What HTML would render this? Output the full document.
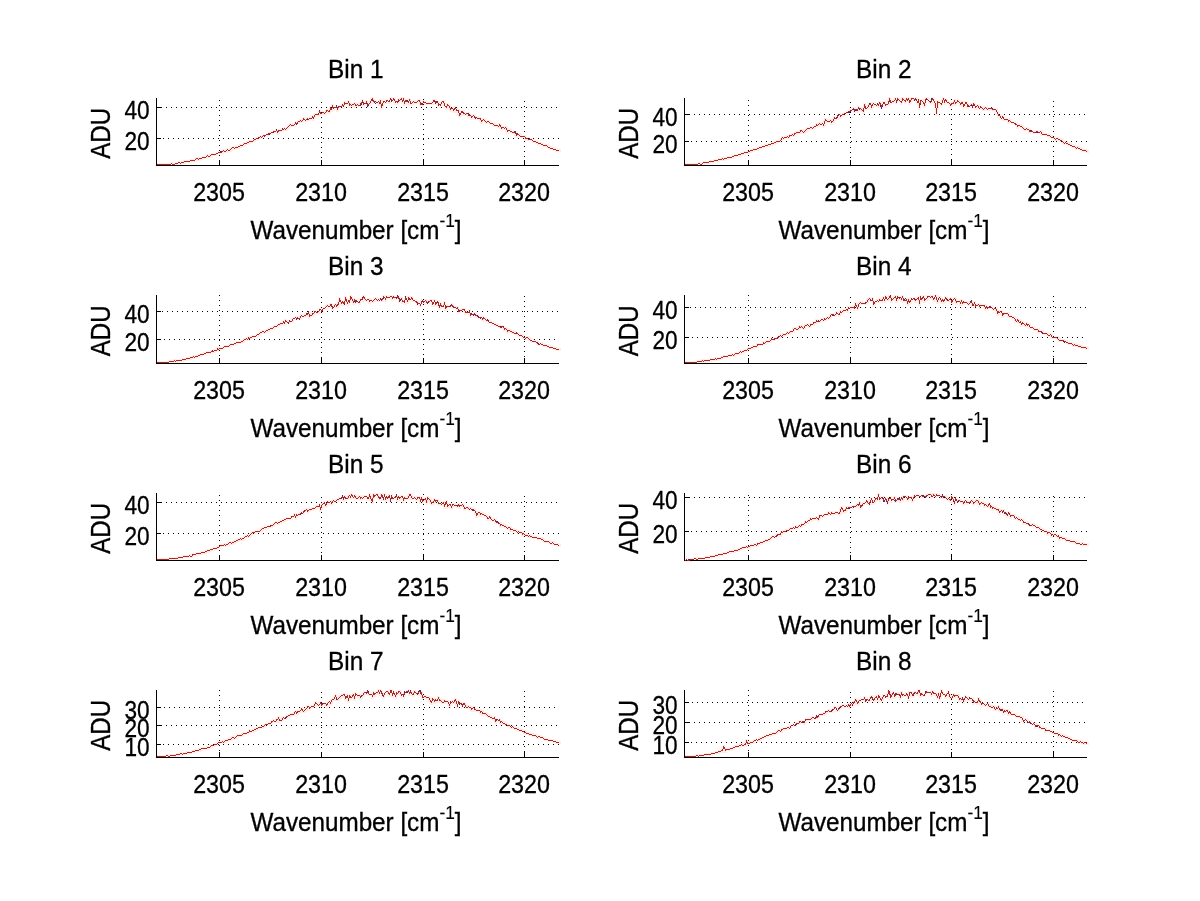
<!DOCTYPE html>
<html lang="en">
<head>
<meta charset="utf-8">
<title>Bins 1-8: ADU vs Wavenumber</title>
<style>
html,body{margin:0;padding:0;background:#fff;}
body{width:1200px;height:901px;overflow:hidden;}
svg{display:block;}
</style>
</head>
<body>
<svg width="1200" height="901" viewBox="0 0 1200 901">
<rect x="0" y="0" width="1200" height="901" fill="#ffffff"/>
<defs>
<path id="c1" d="M277.5 131v2M278.5 130v2M295.5 122v2M303.5 118v2M312.5 116v2M313.5 117v2M314.5 115v2M318.5 113v2M319.5 111v2M320.5 112v2M326.5 110v2M329.5 110v2M330.5 107v3M331.5 108v2M332.5 105v3M333.5 107v2M336.5 106v2M337.5 108v2M338.5 106v2M342.5 104v2M343.5 105v2M344.5 102v3M348.5 101v2M349.5 103v3M355.5 104v2M360.5 103v2M361.5 102v2M362.5 100v2M363.5 102v3M366.5 101v2M367.5 103v3M370.5 101v2M371.5 99v2M372.5 98v2M373.5 100v2M379.5 102v2M380.5 100v4M381.5 104v4M382.5 103v3M383.5 101v2M386.5 100v2M389.5 100v2M390.5 98v2M393.5 98v2M394.5 99v2M395.5 101v2M397.5 101v2M398.5 99v2M401.5 98v2M402.5 100v2M403.5 98v3M404.5 101v3M405.5 100v2M408.5 101v2M409.5 99v2M410.5 101v3M419.5 100v2M420.5 102v3M422.5 103v2M423.5 101v2M433.5 100v2M435.5 101v2M437.5 101v2M438.5 103v2M440.5 104v2M441.5 102v2M443.5 101v2M444.5 103v3M446.5 106v2M447.5 104v2M449.5 106v2M450.5 108v2M453.5 109v2M454.5 108v2M455.5 107v2M456.5 109v2M458.5 110v3M459.5 113v3M460.5 113v2M461.5 111v2M463.5 112v2M468.5 114v2M471.5 116v2M474.5 116v2M480.5 118v2M481.5 120v2M499.5 124v2M500.5 125v2M501.5 127v2M506.5 128v2M507.5 130v2M515.5 132v2M516.5 134v2M517.5 133v2M525.5 137v2M391 99.5h1M400 99.5h1M387 100.5h1M392 100.5h1M399 100.5h1M418 100.5h1M434 100.5h1M374 101.5h2M378 101.5h1M384 101.5h1M388 101.5h1M396 101.5h1M406 101.5h2M413 101.5h1M417 101.5h1M436 101.5h1M442 101.5h1M376 102.5h2M385 102.5h1M412 102.5h1M414 102.5h3M424 102.5h2M432 102.5h1M345 103.5h3M354 103.5h1M364 103.5h2M369 103.5h1M411 103.5h1M426 103.5h6M350 104.5h1M352 104.5h2M357 104.5h1M368 104.5h1M421 104.5h1M439 104.5h1M351 105.5h1M356 105.5h1M358 105.5h2M448 105.5h1M339 106.5h3M445 106.5h1M334 107.5h2M451 108.5h2M327 110.5h1M457 110.5h1M328 111.5h1M462 111.5h1M322 112.5h2M325 112.5h1M321 113.5h1M324 113.5h1M464 113.5h1M466 113.5h2M315 114.5h3M465 114.5h1M469 115.5h2M473 115.5h1M472 116.5h1M475 117.5h2M307 118.5h1M309 118.5h3M477 118.5h3M304 119.5h1M306 119.5h1M308 119.5h1M483 119.5h1M300 120.5h1M302 120.5h1M305 120.5h1M482 120.5h1M484 120.5h1M298 121.5h2M301 121.5h1M485 121.5h1M487 121.5h2M297 122.5h1M486 122.5h1M489 122.5h1M296 123.5h1M490 123.5h3M290 124.5h1M294 124.5h1M493 124.5h1M289 125.5h1M291 125.5h3M494 125.5h4M288 126.5h1M498 126.5h1M287 127.5h1M502 127.5h2M505 127.5h1M284 128.5h1M286 128.5h1M504 128.5h1M282 129.5h2M285 129.5h1M276 130.5h1M279 130.5h3M508 130.5h2M273 131.5h3M510 131.5h2M271 132.5h2M512 132.5h3M268 133.5h3M266 134.5h2M518 134.5h1M263 135.5h3M519 135.5h1M260 136.5h1M262 136.5h1M520 136.5h5M258 137.5h2M261 137.5h1M256 138.5h2M526 138.5h2M254 139.5h2M528 139.5h4M253 140.5h1M532 140.5h1M249 141.5h4M533 141.5h3M247 142.5h2M536 142.5h2M244 143.5h3M538 143.5h3M243 144.5h1M541 144.5h2M240 145.5h3M543 145.5h4M238 146.5h2M547 146.5h1M232 147.5h2M235 147.5h3M548 147.5h2M231 148.5h1M234 148.5h1M550 148.5h3M227 149.5h1M230 149.5h1M553 149.5h3M223 150.5h1M226 150.5h1M228 150.5h2M556 150.5h3M222 151.5h1M224 151.5h2M218 152.5h4M216 153.5h2M211 154.5h5M207 155.5h1M210 155.5h1M206 156.5h1M208 156.5h2M202 157.5h4M196 158.5h2M199 158.5h3M195 159.5h1M198 159.5h1M190 160.5h5M184 161.5h6M178 162.5h2M181 162.5h3M171 163.5h1M175 163.5h3M180 163.5h1M157 164.5h14M172 164.5h3"/>
<path id="c2" d="M781.5 138v2M789.5 135v2M794.5 133v2M800.5 130v2M816.5 124v2M823.5 124v2M824.5 121v3M825.5 119v2M831.5 121v2M833.5 119v2M834.5 117v2M837.5 116v2M840.5 115v2M854.5 109v2M857.5 109v2M858.5 107v2M863.5 108v4M864.5 104v4M865.5 106v3M868.5 105v2M870.5 103v2M871.5 105v3M872.5 104v2M878.5 104v2M879.5 102v2M880.5 103v2M881.5 105v2M882.5 104v2M883.5 102v2M884.5 102v2M885.5 104v2M888.5 101v3M889.5 98v3M890.5 100v3M895.5 98v2M896.5 100v2M897.5 98v2M901.5 101v2M902.5 98v3M905.5 100v2M906.5 98v2M907.5 99v2M908.5 98v2M909.5 100v3M910.5 100v2M911.5 98v2M916.5 99v2M917.5 101v2M918.5 99v4M919.5 103v5M920.5 100v4M923.5 102v2M924.5 103v3M925.5 99v4M931.5 100v2M932.5 98v2M933.5 99v2M934.5 101v2M935.5 103v5M936.5 108v6M937.5 101v7M941.5 103v2M942.5 100v3M943.5 98v2M944.5 100v3M945.5 99v2M946.5 100v2M950.5 104v2M951.5 103v2M953.5 102v2M954.5 100v2M955.5 102v2M957.5 100v2M960.5 103v2M961.5 102v2M962.5 102v2M963.5 104v3M964.5 104v2M965.5 102v2M966.5 102v2M967.5 104v3M972.5 105v2M973.5 103v2M974.5 104v2M975.5 106v2M978.5 106v2M996.5 110v2M997.5 112v2M998.5 114v2M1000.5 116v2M1002.5 116v2M1003.5 117v2M1008.5 120v2M1017.5 125v2M1029.5 130v2M1041.5 132v2M912 98.5h2M915 98.5h1M926 98.5h1M898 99.5h1M903 99.5h1M914 99.5h1M927 99.5h1M894 100.5h1M899 100.5h1M904 100.5h1M921 100.5h1M928 100.5h1M892 101.5h2M900 101.5h1M922 101.5h1M929 101.5h1M958 101.5h1M891 102.5h1M930 102.5h1M938 102.5h2M947 102.5h2M956 102.5h1M959 102.5h1M873 103.5h1M940 103.5h1M949 103.5h1M952 103.5h1M869 104.5h1M874 104.5h2M877 104.5h1M886 104.5h2M971 104.5h1M876 105.5h1M968 105.5h1M970 105.5h1M977 105.5h1M969 106.5h1M976 106.5h1M867 107.5h1M980 107.5h2M985 107.5h1M853 108.5h1M859 108.5h2M866 108.5h1M979 108.5h1M982 108.5h1M984 108.5h1M986 108.5h1M988 108.5h4M852 109.5h1M855 109.5h1M861 109.5h1M983 109.5h1M987 109.5h1M992 109.5h4M850 110.5h2M856 110.5h1M862 110.5h1M848 111.5h2M846 112.5h2M844 113.5h2M839 114.5h1M842 114.5h2M838 115.5h1M841 115.5h1M999 115.5h1M835 118.5h2M1001 118.5h1M1004 119.5h4M826 120.5h1M830 120.5h1M1009 120.5h1M827 121.5h3M832 121.5h1M1010 121.5h1M1011 122.5h3M819 123.5h1M822 123.5h1M1014 123.5h2M818 124.5h1M820 124.5h2M1016 124.5h1M817 125.5h1M1018 125.5h2M814 126.5h2M1020 126.5h2M810 127.5h2M813 127.5h1M1022 127.5h1M807 128.5h3M812 128.5h1M1023 128.5h1M1026 128.5h1M806 129.5h1M1024 129.5h2M1027 129.5h2M801 130.5h1M805 130.5h1M802 131.5h1M804 131.5h1M1030 131.5h3M1036 131.5h2M1040 131.5h1M796 132.5h4M803 132.5h1M1033 132.5h3M1038 132.5h2M795 133.5h1M792 134.5h1M1042 134.5h5M790 135.5h2M793 135.5h1M1047 135.5h3M787 136.5h1M1050 136.5h1M782 137.5h1M784 137.5h3M788 137.5h1M1051 137.5h3M783 138.5h1M1054 138.5h1M1056 138.5h2M1055 139.5h1M1058 139.5h2M780 140.5h1M1060 140.5h2M776 141.5h4M1062 141.5h1M774 142.5h2M1063 142.5h1M1065 142.5h1M771 143.5h3M1064 143.5h1M1066 143.5h2M768 144.5h3M1068 144.5h2M765 145.5h3M1070 145.5h2M762 146.5h3M1072 146.5h3M759 147.5h3M1075 147.5h1M1077 147.5h1M757 148.5h2M1076 148.5h1M1078 148.5h2M753 149.5h4M1080 149.5h2M750 150.5h3M1082 150.5h4M748 151.5h2M1086 151.5h1M744 152.5h4M741 153.5h3M738 154.5h3M734 155.5h4M732 156.5h2M727 157.5h5M722 158.5h1M724 158.5h3M718 159.5h4M723 159.5h1M714 160.5h4M709 161.5h5M703 162.5h6M698 163.5h2M702 163.5h1M685 164.5h13M700 164.5h2"/>
<path id="c3" d="M217.5 348v2M248.5 337v2M283.5 321v2M284.5 322v2M285.5 320v2M292.5 319v2M300.5 316v2M306.5 313v2M308.5 312v2M309.5 314v3M312.5 313v2M314.5 311v2M319.5 309v2M321.5 310v2M322.5 309v2M330.5 304v2M331.5 304v2M332.5 306v3M334.5 305v2M336.5 305v2M337.5 304v2M338.5 302v3M339.5 298v4M340.5 300v2M341.5 302v2M342.5 301v2M343.5 302v2M344.5 301v3M345.5 297v4M346.5 299v3M347.5 302v2M348.5 300v2M349.5 300v3M350.5 296v4M351.5 297v2M352.5 299v2M353.5 301v2M354.5 299v2M355.5 300v2M359.5 301v2M360.5 299v2M362.5 298v2M363.5 296v2M364.5 297v2M369.5 300v2M382.5 298v2M383.5 296v2M385.5 298v2M386.5 296v2M392.5 297v2M393.5 296v2M397.5 296v2M398.5 296v2M399.5 298v3M401.5 298v2M402.5 300v2M404.5 300v3M405.5 297v3M406.5 298v2M407.5 300v2M408.5 297v3M409.5 298v2M411.5 297v2M412.5 298v2M417.5 302v2M420.5 304v2M421.5 301v3M423.5 301v2M426.5 301v2M431.5 300v2M432.5 302v3M433.5 302v2M434.5 300v2M435.5 302v3M436.5 302v2M438.5 302v3M439.5 305v3M440.5 303v3M441.5 305v2M443.5 305v2M444.5 302v3M445.5 305v4M446.5 306v2M451.5 304v2M452.5 305v2M457.5 307v2M458.5 309v3M464.5 309v2M465.5 311v2M469.5 310v3M470.5 313v3M475.5 314v2M482.5 318v2M483.5 317v2M503.5 326v2M504.5 328v2M507.5 330v2M390 296.5h2M384 297.5h1M387 297.5h3M394 297.5h2M375 298.5h1M396 298.5h1M361 299.5h1M365 299.5h1M367 299.5h2M374 299.5h1M376 299.5h1M378 299.5h1M380 299.5h1M400 299.5h1M410 299.5h1M356 300.5h1M366 300.5h1M370 300.5h2M373 300.5h1M377 300.5h1M379 300.5h1M381 300.5h1M413 300.5h2M422 300.5h1M425 300.5h1M430 300.5h1M357 301.5h1M372 301.5h1M403 301.5h1M415 301.5h2M424 301.5h1M428 301.5h2M437 301.5h1M358 302.5h1M427 302.5h1M418 303.5h2M335 304.5h1M327 305.5h1M326 306.5h1M328 306.5h2M442 306.5h1M447 306.5h4M325 307.5h1M333 307.5h1M453 307.5h3M323 308.5h2M456 308.5h1M320 309.5h1M462 309.5h2M460 310.5h2M315 311.5h1M318 311.5h1M459 311.5h1M316 312.5h2M466 312.5h3M313 313.5h1M474 313.5h1M307 314.5h1M471 314.5h3M301 315.5h1M304 315.5h2M310 315.5h2M476 315.5h1M302 316.5h2M477 316.5h1M295 317.5h1M297 317.5h1M478 317.5h4M293 318.5h2M296 318.5h1M298 318.5h2M484 318.5h1M485 319.5h1M486 320.5h2M286 321.5h1M289 321.5h3M488 321.5h1M287 322.5h2M489 322.5h3M280 323.5h3M492 323.5h2M278 324.5h2M494 324.5h2M277 325.5h1M496 325.5h2M274 326.5h3M498 326.5h2M501 326.5h2M273 327.5h1M500 327.5h1M270 328.5h3M505 328.5h1M268 329.5h2M506 329.5h1M266 330.5h2M508 330.5h2M262 331.5h2M265 331.5h1M510 331.5h2M260 332.5h2M264 332.5h1M512 332.5h2M259 333.5h1M514 333.5h4M257 334.5h2M518 334.5h1M256 335.5h1M519 335.5h3M252 336.5h4M522 336.5h1M250 337.5h2M523 337.5h2M526 337.5h2M246 338.5h1M249 338.5h1M525 338.5h1M528 338.5h1M244 339.5h2M247 339.5h1M529 339.5h1M243 340.5h1M530 340.5h2M241 341.5h2M532 341.5h4M236 342.5h5M536 342.5h1M234 343.5h2M537 343.5h1M540 343.5h1M230 344.5h4M538 344.5h2M541 344.5h2M229 345.5h1M543 345.5h4M224 346.5h5M547 346.5h2M223 347.5h1M549 347.5h4M219 348.5h4M553 348.5h3M218 349.5h1M556 349.5h3M214 350.5h3M211 351.5h3M206 352.5h5M204 353.5h2M200 354.5h4M198 355.5h2M193 356.5h1M195 356.5h3M190 357.5h3M194 357.5h1M186 358.5h4M182 359.5h4M174 360.5h1M176 360.5h6M169 361.5h5M175 361.5h1M157 362.5h12"/>
<path id="c4" d="M757.5 344v2M763.5 342v2M771.5 338v2M793.5 329v2M799.5 326v2M804.5 326v2M810.5 324v2M813.5 322v2M816.5 320v2M824.5 318v2M830.5 315v2M836.5 312v2M839.5 313v2M840.5 311v2M847.5 309v2M848.5 307v2M854.5 306v3M855.5 303v3M856.5 305v2M857.5 307v2M858.5 304v3M867.5 300v2M872.5 298v3M873.5 301v4M874.5 302v2M879.5 299v2M882.5 299v2M883.5 297v2M884.5 299v2M885.5 296v3M886.5 297v2M889.5 296v2M890.5 296v2M891.5 298v3M895.5 296v2M896.5 298v3M897.5 296v3M901.5 298v2M902.5 296v2M903.5 298v3M906.5 299v2M907.5 301v3M908.5 299v3M909.5 301v2M910.5 300v2M911.5 298v2M915.5 299v2M918.5 297v3M919.5 300v4M920.5 296v4M921.5 298v2M922.5 297v2M923.5 296v2M924.5 298v3M927.5 296v2M932.5 296v2M933.5 298v2M934.5 297v2M936.5 297v3M937.5 300v2M938.5 298v2M940.5 298v2M941.5 300v2M942.5 299v2M943.5 300v2M944.5 299v2M945.5 297v2M946.5 298v2M950.5 298v2M951.5 300v3M952.5 300v2M955.5 299v2M956.5 301v2M960.5 302v2M961.5 300v2M962.5 302v2M963.5 301v2M971.5 301v2M972.5 303v3M973.5 304v2M974.5 302v2M975.5 304v3M979.5 305v2M984.5 305v2M985.5 307v2M986.5 306v2M987.5 307v2M996.5 309v2M997.5 311v3M998.5 311v2M1001.5 311v2M1002.5 313v3M1003.5 313v2M1008.5 314v2M1015.5 319v2M1017.5 319v2M1018.5 320v2M1020.5 321v2M1021.5 323v2M1022.5 322v2M1026.5 323v2M1027.5 324v2M1029.5 325v2M1038.5 330v2M1051.5 335v2M928 296.5h2M931 296.5h1M935 296.5h1M894 297.5h1M898 297.5h1M900 297.5h1M930 297.5h1M939 297.5h1M869 298.5h1M888 298.5h1M893 298.5h1M899 298.5h1M913 298.5h2M917 298.5h1M926 298.5h1M954 298.5h1M868 299.5h1M870 299.5h1M887 299.5h1M892 299.5h1M912 299.5h1M916 299.5h1M925 299.5h1M949 299.5h1M953 299.5h1M871 300.5h1M877 300.5h1M880 300.5h2M904 300.5h2M947 300.5h2M875 301.5h2M878 301.5h1M957 301.5h3M860 302.5h1M866 302.5h1M964 302.5h3M970 302.5h1M859 303.5h1M861 303.5h5M967 303.5h1M969 303.5h1M968 304.5h1M978 304.5h1M976 305.5h2M980 305.5h4M990 306.5h1M850 307.5h4M988 307.5h2M991 307.5h1M849 308.5h1M992 308.5h1M994 308.5h2M846 309.5h1M993 309.5h1M843 310.5h3M842 311.5h1M1000 311.5h1M841 312.5h1M999 312.5h1M837 313.5h1M1004 313.5h4M831 314.5h3M835 314.5h1M838 314.5h1M834 315.5h1M1009 316.5h3M827 317.5h1M829 317.5h1M1012 317.5h2M826 318.5h1M828 318.5h1M1014 318.5h1M821 319.5h2M825 319.5h1M820 320.5h1M823 320.5h1M817 321.5h3M1016 321.5h1M814 322.5h2M1019 322.5h1M1023 323.5h1M807 324.5h1M811 324.5h2M1024 324.5h1M1028 324.5h1M805 325.5h2M808 325.5h1M1025 325.5h1M801 326.5h1M809 326.5h1M800 327.5h1M802 327.5h1M1030 327.5h3M794 328.5h2M798 328.5h1M803 328.5h1M1033 328.5h1M796 329.5h2M1034 329.5h4M790 331.5h3M1039 331.5h3M787 332.5h1M789 332.5h1M1042 332.5h1M786 333.5h1M788 333.5h1M1043 333.5h4M783 334.5h3M1047 334.5h1M1050 334.5h1M780 335.5h1M782 335.5h1M1048 335.5h2M779 336.5h1M781 336.5h1M778 337.5h1M1052 337.5h5M774 338.5h4M1057 338.5h1M772 339.5h2M1058 339.5h1M770 340.5h1M1059 340.5h5M766 341.5h4M1064 341.5h2M765 342.5h1M1066 342.5h2M764 343.5h1M1068 343.5h4M758 344.5h5M1072 344.5h1M1074 344.5h1M1073 345.5h1M1075 345.5h3M753 346.5h4M1078 346.5h3M751 347.5h2M1081 347.5h5M748 348.5h3M1086 348.5h1M747 349.5h1M744 350.5h3M740 351.5h1M742 351.5h2M739 352.5h1M741 352.5h1M735 353.5h4M732 354.5h1M734 354.5h1M728 355.5h4M733 355.5h1M723 356.5h5M721 357.5h2M715 358.5h1M717 358.5h4M710 359.5h5M716 359.5h1M702 360.5h1M704 360.5h6M697 361.5h5M703 361.5h1M685 362.5h12"/>
<path id="c5" d="M192.5 554v2M291.5 516v2M294.5 514v2M295.5 516v2M296.5 514v2M303.5 511v2M307.5 510v2M319.5 504v3M320.5 507v3M321.5 505v3M324.5 502v2M325.5 504v2M326.5 503v2M327.5 501v2M331.5 502v2M332.5 501v2M342.5 496v2M343.5 498v2M344.5 496v2M345.5 497v2M348.5 496v2M350.5 496v2M351.5 494v2M352.5 495v2M354.5 495v2M355.5 496v2M360.5 497v2M367.5 497v2M368.5 497v2M369.5 494v3M370.5 496v3M371.5 499v2M372.5 498v4M373.5 494v4M374.5 495v2M377.5 494v2M378.5 496v2M380.5 497v2M381.5 494v3M382.5 495v2M383.5 497v2M384.5 494v3M385.5 497v3M386.5 496v2M387.5 497v2M388.5 496v2M389.5 495v3M390.5 498v3M391.5 495v3M392.5 497v2M396.5 495v2M397.5 497v3M398.5 496v2M399.5 497v2M402.5 496v2M403.5 498v3M404.5 497v2M408.5 496v2M409.5 494v2M410.5 494v2M411.5 496v2M417.5 497v2M419.5 497v2M420.5 499v3M421.5 497v3M422.5 499v3M425.5 498v2M426.5 500v3M427.5 497v3M430.5 500v2M431.5 502v2M433.5 501v2M434.5 499v2M435.5 500v2M437.5 500v2M438.5 502v2M443.5 502v2M444.5 504v3M445.5 502v3M446.5 501v3M447.5 504v3M450.5 504v2M451.5 506v2M452.5 504v2M458.5 504v2M459.5 505v2M463.5 505v2M464.5 507v2M475.5 511v2M476.5 513v3M477.5 513v2M480.5 513v2M487.5 517v2M489.5 516v2M490.5 517v2M495.5 520v2M500.5 524v2M510.5 528v2M522.5 533v2M376 494.5h1M349 495.5h1M375 495.5h1M359 496.5h1M364 496.5h3M401 496.5h1M353 497.5h1M358 497.5h1M361 497.5h1M363 497.5h1M379 497.5h1M394 497.5h2M400 497.5h1M414 497.5h1M418 497.5h1M339 498.5h3M346 498.5h2M356 498.5h2M362 498.5h1M393 498.5h1M405 498.5h3M412 498.5h2M415 498.5h1M428 498.5h1M337 499.5h2M416 499.5h1M424 499.5h1M429 499.5h1M333 500.5h1M336 500.5h1M423 500.5h1M436 500.5h1M330 501.5h1M334 501.5h2M328 502.5h2M432 502.5h1M323 503.5h1M439 503.5h2M442 503.5h1M322 504.5h1M441 504.5h1M449 504.5h1M453 504.5h1M462 504.5h1M448 505.5h1M454 505.5h3M460 505.5h2M316 506.5h3M457 506.5h1M315 507.5h1M466 507.5h2M312 508.5h3M465 508.5h1M468 508.5h1M470 508.5h1M306 509.5h1M309 509.5h3M469 509.5h1M471 509.5h3M304 510.5h2M308 510.5h1M474 510.5h1M301 512.5h1M478 512.5h2M300 513.5h1M302 513.5h1M481 513.5h1M298 514.5h2M482 514.5h2M297 515.5h1M484 515.5h2M292 516.5h2M486 516.5h1M286 518.5h5M488 518.5h1M284 519.5h2M491 519.5h1M494 519.5h1M282 520.5h2M492 520.5h2M280 521.5h2M275 522.5h2M278 522.5h2M496 522.5h2M274 523.5h1M277 523.5h1M498 523.5h2M273 524.5h1M501 524.5h1M271 525.5h2M502 525.5h2M267 526.5h4M504 526.5h2M264 527.5h3M506 527.5h1M508 527.5h2M262 528.5h2M507 528.5h1M261 529.5h1M511 529.5h2M260 530.5h1M513 530.5h3M255 531.5h5M516 531.5h1M518 531.5h1M252 532.5h3M517 532.5h1M519 532.5h3M251 533.5h1M523 533.5h1M250 534.5h1M524 534.5h1M247 535.5h1M249 535.5h1M525 535.5h3M529 535.5h1M245 536.5h2M248 536.5h1M528 536.5h1M530 536.5h2M244 537.5h1M532 537.5h5M240 538.5h1M242 538.5h2M537 538.5h4M238 539.5h2M241 539.5h1M541 539.5h2M236 540.5h2M543 540.5h1M234 541.5h2M544 541.5h5M229 542.5h2M232 542.5h2M549 542.5h1M552 542.5h1M228 543.5h1M231 543.5h1M550 543.5h2M553 543.5h1M224 544.5h1M226 544.5h2M554 544.5h4M220 545.5h4M225 545.5h1M558 545.5h1M219 546.5h1M217 547.5h2M213 548.5h4M210 549.5h3M207 550.5h3M205 551.5h2M201 552.5h4M196 553.5h5M193 554.5h3M189 555.5h1M183 556.5h6M190 556.5h2M178 557.5h5M169 558.5h9M157 559.5h12"/>
<path id="c6" d="M757.5 543v2M780.5 533v2M781.5 531v2M795.5 526v2M801.5 524v2M805.5 521v2M810.5 518v2M818.5 518v2M819.5 515v3M828.5 512v2M831.5 512v2M839.5 512v2M840.5 509v3M841.5 507v2M842.5 508v2M843.5 510v2M845.5 509v2M846.5 507v2M858.5 504v2M859.5 502v3M860.5 505v3M861.5 505v2M866.5 500v2M867.5 501v2M869.5 502v2M870.5 500v2M871.5 498v2M872.5 500v3M874.5 500v2M875.5 498v2M877.5 497v3M878.5 494v3M879.5 497v3M883.5 498v2M885.5 498v2M886.5 499v2M887.5 501v2M888.5 498v3M890.5 497v2M891.5 499v2M894.5 497v2M895.5 499v2M897.5 498v2M900.5 499v2M901.5 497v2M902.5 498v2M903.5 496v2M907.5 498v2M908.5 497v2M911.5 497v2M912.5 499v2M913.5 497v2M914.5 495v2M931.5 495v2M933.5 494v2M936.5 494v2M942.5 495v2M950.5 499v2M951.5 496v3M952.5 497v2M953.5 499v2M954.5 501v3M955.5 497v4M956.5 499v2M963.5 502v2M964.5 501v2M966.5 501v2M973.5 502v2M978.5 501v2M979.5 503v2M984.5 504v2M988.5 504v2M989.5 503v2M990.5 505v3M992.5 507v2M998.5 509v2M999.5 511v2M1003.5 510v2M1004.5 512v2M1007.5 514v2M1008.5 512v2M1009.5 513v2M1010.5 515v2M1014.5 516v2M1023.5 521v2M1047.5 532v2M1051.5 534v2M1058.5 535v2M1059.5 537v2M928 494.5h3M916 495.5h3M921 495.5h1M926 495.5h2M934 495.5h1M937 495.5h3M904 496.5h2M915 496.5h1M919 496.5h2M922 496.5h4M932 496.5h1M935 496.5h1M940 496.5h1M943 496.5h2M881 497.5h2M906 497.5h1M909 497.5h2M941 497.5h1M945 497.5h1M876 498.5h1M880 498.5h1M889 498.5h1M946 498.5h1M948 498.5h1M892 499.5h2M898 499.5h2M947 499.5h1M949 499.5h1M884 500.5h1M896 500.5h1M958 500.5h2M965 500.5h1M971 500.5h1M976 500.5h2M957 501.5h1M960 501.5h3M970 501.5h1M972 501.5h1M975 501.5h1M865 502.5h1M873 502.5h1M967 502.5h3M974 502.5h1M981 502.5h1M863 503.5h2M868 503.5h1M980 503.5h1M982 503.5h2M857 504.5h1M862 504.5h1M985 504.5h1M856 505.5h1M986 505.5h1M852 506.5h4M987 506.5h1M991 506.5h1M848 507.5h4M993 507.5h1M847 508.5h1M994 508.5h2M996 509.5h2M844 510.5h1M1001 510.5h1M1000 511.5h1M1002 511.5h1M835 512.5h3M829 513.5h1M832 513.5h3M838 513.5h1M1005 513.5h1M824 514.5h4M830 514.5h1M1006 514.5h1M820 515.5h2M823 515.5h1M1011 515.5h3M822 516.5h1M816 517.5h1M1016 517.5h1M812 518.5h4M817 518.5h1M1015 518.5h1M1017 518.5h1M811 519.5h1M1018 519.5h2M1021 519.5h1M808 520.5h2M1020 520.5h1M1022 520.5h1M807 521.5h1M806 522.5h1M1024 522.5h2M804 523.5h1M1026 523.5h2M802 524.5h2M1028 524.5h2M1032 524.5h1M799 525.5h1M1030 525.5h2M1033 525.5h2M798 526.5h1M800 526.5h1M1035 526.5h1M793 527.5h1M796 527.5h2M1036 527.5h3M790 528.5h3M794 528.5h1M1039 528.5h1M789 529.5h1M1040 529.5h2M786 530.5h3M1042 530.5h2M783 531.5h3M1044 531.5h3M782 532.5h1M1048 532.5h2M1050 533.5h1M777 534.5h3M1052 534.5h1M1054 534.5h2M776 535.5h1M1053 535.5h1M1056 535.5h1M772 536.5h2M775 536.5h1M1057 536.5h1M771 537.5h1M774 537.5h1M1060 537.5h2M770 538.5h1M1062 538.5h3M768 539.5h2M1065 539.5h1M765 540.5h3M1066 540.5h4M763 541.5h2M1070 541.5h5M760 542.5h3M1075 542.5h1M758 543.5h2M1076 543.5h4M1082 543.5h1M754 544.5h2M1080 544.5h2M1083 544.5h4M750 545.5h4M756 545.5h1M746 546.5h1M748 546.5h2M742 547.5h4M747 547.5h1M740 548.5h2M738 549.5h2M734 550.5h4M729 551.5h5M727 552.5h2M723 553.5h4M718 554.5h5M715 555.5h3M710 556.5h5M705 557.5h5M694 558.5h2M698 558.5h7M686 559.5h1M690 559.5h4M696 559.5h2M685 560.5h1M687 560.5h3"/>
<path id="c7" d="M249.5 730v2M271.5 721v2M276.5 719v2M278.5 717v2M279.5 719v2M282.5 718v2M294.5 712v2M296.5 712v2M297.5 711v2M301.5 708v2M302.5 709v2M307.5 706v2M309.5 707v2M314.5 704v2M315.5 702v2M320.5 702v2M321.5 704v2M326.5 704v2M327.5 703v2M330.5 702v2M331.5 700v2M334.5 697v2M335.5 695v2M336.5 697v2M344.5 694v2M345.5 696v3M346.5 696v2M347.5 695v3M348.5 698v3M349.5 695v3M350.5 696v2M352.5 695v2M353.5 694v2M354.5 696v3M355.5 693v3M360.5 696v2M361.5 695v2M363.5 693v2M367.5 691v2M368.5 692v2M372.5 695v2M373.5 692v3M374.5 693v2M378.5 690v2M379.5 692v2M380.5 690v2M381.5 691v2M382.5 693v2M383.5 695v2M384.5 693v2M388.5 692v2M389.5 693v2M390.5 690v3M391.5 690v3M392.5 693v3M393.5 691v3M394.5 693v2M395.5 695v2M396.5 692v3M398.5 691v2M400.5 692v2M401.5 694v2M403.5 695v2M404.5 693v2M408.5 690v2M409.5 692v2M410.5 691v2M411.5 692v2M413.5 693v2M414.5 691v2M418.5 692v2M420.5 692v2M421.5 692v3M422.5 695v3M429.5 698v2M430.5 700v2M431.5 701v2M432.5 698v3M434.5 700v2M435.5 699v2M437.5 699v2M438.5 697v2M439.5 699v2M444.5 700v2M448.5 702v2M449.5 704v2M450.5 701v3M454.5 700v2M455.5 699v2M456.5 701v3M457.5 704v3M458.5 701v3M459.5 702v2M462.5 704v2M463.5 703v2M464.5 703v2M465.5 705v2M471.5 708v2M474.5 708v2M480.5 711v2M482.5 712v2M494.5 717v2M495.5 719v3M499.5 719v2M500.5 721v2M386 691.5h2M399 691.5h1M406 691.5h2M419 691.5h1M364 692.5h2M376 692.5h2M385 692.5h1M405 692.5h1M415 692.5h1M366 693.5h1M375 693.5h1M397 693.5h1M416 693.5h1M343 694.5h1M356 694.5h1M369 694.5h3M402 694.5h1M412 694.5h1M417 694.5h1M341 695.5h2M357 695.5h3M362 695.5h1M340 696.5h1M424 696.5h2M339 697.5h1M351 697.5h1M423 697.5h1M426 697.5h3M338 698.5h1M332 699.5h2M337 699.5h1M433 699.5h1M436 700.5h1M440 700.5h1M329 701.5h1M441 701.5h1M445 701.5h3M452 701.5h1M328 702.5h1M442 702.5h2M451 702.5h1M453 702.5h1M316 703.5h1M323 703.5h3M460 703.5h2M317 704.5h1M319 704.5h1M322 704.5h1M318 705.5h1M308 706.5h1M311 706.5h3M468 706.5h1M310 707.5h1M466 707.5h2M469 707.5h2M473 707.5h1M306 708.5h1M472 708.5h1M305 709.5h1M475 709.5h1M300 710.5h1M304 710.5h1M476 710.5h4M295 711.5h1M298 711.5h2M303 711.5h1M481 711.5h1M483 713.5h3M290 714.5h4M486 714.5h1M288 715.5h2M487 715.5h1M286 716.5h2M488 716.5h2M283 717.5h1M285 717.5h1M490 717.5h2M284 718.5h1M492 718.5h2M277 719.5h1M497 719.5h1M273 720.5h1M280 720.5h2M496 720.5h1M498 720.5h1M272 721.5h1M274 721.5h2M501 721.5h1M502 722.5h1M268 723.5h3M503 723.5h2M265 724.5h3M505 724.5h2M264 725.5h1M507 725.5h3M262 726.5h2M510 726.5h1M512 726.5h1M258 727.5h4M511 727.5h1M513 727.5h1M256 728.5h2M514 728.5h3M254 729.5h2M517 729.5h2M252 730.5h2M519 730.5h3M250 731.5h2M522 731.5h2M247 732.5h2M524 732.5h2M243 733.5h4M526 733.5h3M242 734.5h1M529 734.5h3M237 735.5h5M532 735.5h4M236 736.5h1M536 736.5h1M538 736.5h2M232 737.5h2M235 737.5h1M537 737.5h1M540 737.5h3M231 738.5h1M234 738.5h1M543 738.5h1M228 739.5h3M544 739.5h4M225 740.5h3M548 740.5h5M222 741.5h1M224 741.5h1M553 741.5h3M218 742.5h4M223 742.5h1M556 742.5h3M217 743.5h1M214 744.5h3M211 745.5h3M210 746.5h1M207 747.5h3M201 748.5h6M199 749.5h2M195 750.5h4M192 751.5h3M187 752.5h5M180 753.5h2M183 753.5h4M176 754.5h4M182 754.5h1M166 755.5h2M170 755.5h6M157 756.5h9M168 756.5h2"/>
<path id="c8" d="M722.5 749v2M723.5 746v3M724.5 747v2M725.5 749v2M745.5 743v2M746.5 740v3M747.5 742v2M781.5 729v2M790.5 726v2M799.5 721v2M804.5 721v2M805.5 719v2M816.5 716v2M818.5 715v2M834.5 707v2M836.5 708v2M838.5 708v2M848.5 704v2M849.5 705v2M850.5 704v2M853.5 702v2M854.5 701v2M855.5 699v2M856.5 700v2M857.5 702v2M858.5 701v2M864.5 697v2M865.5 699v2M869.5 699v2M870.5 697v2M872.5 697v2M873.5 699v2M874.5 698v2M876.5 696v2M877.5 698v2M878.5 695v3M879.5 696v2M880.5 698v2M881.5 699v2M882.5 697v2M883.5 695v2M887.5 694v3M888.5 690v4M889.5 691v4M890.5 695v3M891.5 695v2M892.5 693v2M893.5 692v2M894.5 694v3M895.5 694v2M899.5 694v2M900.5 695v3M901.5 692v3M902.5 694v2M906.5 693v2M907.5 694v2M908.5 696v3M909.5 692v4M911.5 692v2M912.5 694v2M913.5 693v2M917.5 692v2M918.5 690v2M919.5 690v3M920.5 693v3M921.5 693v2M926.5 691v2M931.5 693v2M932.5 691v2M933.5 692v2M936.5 694v2M937.5 696v2M938.5 693v3M939.5 696v3M940.5 693v4M941.5 690v3M942.5 692v2M945.5 695v2M946.5 694v2M948.5 691v3M949.5 694v3M952.5 696v2M953.5 694v2M954.5 695v2M958.5 696v2M959.5 698v2M962.5 698v2M963.5 700v2M964.5 698v2M965.5 696v2M972.5 699v2M973.5 701v2M977.5 701v2M978.5 698v3M979.5 700v2M980.5 701v2M981.5 703v2M988.5 704v2M994.5 707v2M996.5 707v2M998.5 706v2M999.5 708v2M1002.5 709v2M1003.5 711v2M1004.5 710v2M1007.5 710v2M1008.5 712v2M1009.5 711v2M1010.5 712v2M1022.5 718v2M1023.5 720v2M1035.5 725v2M1039.5 726v2M1045.5 729v2M1058.5 734v2M910 692.5h1M914 692.5h2M927 692.5h4M896 693.5h1M916 693.5h1M925 693.5h1M934 693.5h2M947 693.5h1M897 694.5h2M903 694.5h1M922 694.5h1M924 694.5h1M943 694.5h2M884 695.5h1M904 695.5h2M923 695.5h1M955 695.5h3M871 696.5h1M885 696.5h2M875 697.5h1M950 697.5h1M966 697.5h1M951 698.5h1M960 698.5h1M967 698.5h1M969 698.5h3M861 699.5h3M866 699.5h2M961 699.5h1M968 699.5h1M859 700.5h2M868 700.5h1M974 701.5h1M975 702.5h2M851 703.5h1M982 703.5h2M987 703.5h1M852 704.5h1M984 704.5h1M986 704.5h1M842 705.5h2M846 705.5h1M985 705.5h1M840 706.5h2M844 706.5h2M847 706.5h1M989 706.5h2M993 706.5h1M835 707.5h1M839 707.5h1M991 707.5h2M997 708.5h1M833 709.5h1M995 709.5h1M1000 709.5h2M828 710.5h1M832 710.5h1M837 710.5h1M1006 710.5h1M826 711.5h2M829 711.5h3M1005 711.5h1M825 712.5h1M823 713.5h2M819 714.5h4M1011 714.5h4M1015 715.5h1M1016 716.5h4M812 717.5h2M817 717.5h1M1020 717.5h2M811 718.5h1M814 718.5h2M806 719.5h5M1025 719.5h1M1024 720.5h1M1026 720.5h1M800 721.5h1M802 721.5h2M1027 721.5h1M1029 721.5h1M801 722.5h1M1028 722.5h1M1030 722.5h1M796 723.5h3M1031 723.5h1M1033 723.5h1M793 724.5h1M795 724.5h1M1032 724.5h1M1034 724.5h1M791 725.5h2M794 725.5h1M1036 725.5h3M787 727.5h2M1040 727.5h1M783 728.5h4M789 728.5h1M1041 728.5h4M782 729.5h1M778 730.5h2M1046 730.5h4M777 731.5h1M780 731.5h1M1050 731.5h2M776 732.5h1M1052 732.5h2M772 733.5h4M1054 733.5h4M769 734.5h3M1059 734.5h1M766 735.5h3M1060 735.5h1M1062 735.5h1M764 736.5h2M1061 736.5h1M1063 736.5h2M762 737.5h2M1065 737.5h3M760 738.5h2M1068 738.5h2M756 739.5h1M758 739.5h2M1070 739.5h2M754 740.5h2M757 740.5h1M1072 740.5h5M753 741.5h1M1077 741.5h1M1080 741.5h1M750 742.5h3M1078 742.5h2M1081 742.5h2M1084 742.5h2M748 743.5h2M1083 743.5h1M1086 743.5h1M741 744.5h1M744 744.5h1M739 745.5h2M742 745.5h2M735 746.5h4M733 747.5h2M730 748.5h3M726 749.5h4M721 750.5h1M718 751.5h3M715 752.5h3M711 753.5h4M704 754.5h7M696 755.5h2M699 755.5h5M685 756.5h11M698 756.5h1"/>
</defs>
<g stroke="#ffece9" stroke-width="3" stroke-linecap="square" fill="none" shape-rendering="crispEdges">
<use href="#c1"/>
<use href="#c2"/>
<use href="#c3"/>
<use href="#c4"/>
<use href="#c5"/>
<use href="#c6"/>
<use href="#c7"/>
<use href="#c8"/>
</g>
<g stroke="#000" stroke-width="1" stroke-dasharray="1 4" fill="none" shape-rendering="crispEdges">
<path d="M157 107.5H559" stroke-dashoffset="1"/>
<path d="M157 138.5H559" stroke-dashoffset="4"/>
<path d="M219.5 98V165" stroke-dashoffset="3"/>
<path d="M321.5 98V165" stroke-dashoffset="1"/>
<path d="M423.5 98V165" stroke-dashoffset="4"/>
<path d="M524.5 98V165" stroke-dashoffset="2"/>
<path d="M685 114.5H1087" stroke-dashoffset="1"/>
<path d="M685 141.5H1087" stroke-dashoffset="4"/>
<path d="M748.5 98V165" stroke-dashoffset="3"/>
<path d="M850.5 98V165" stroke-dashoffset="1"/>
<path d="M951.5 98V165" stroke-dashoffset="4"/>
<path d="M1053.5 98V165" stroke-dashoffset="2"/>
<path d="M157 311.5H559" stroke-dashoffset="0"/>
<path d="M157 339.5H559" stroke-dashoffset="3"/>
<path d="M219.5 295V363" stroke-dashoffset="0"/>
<path d="M321.5 295V363" stroke-dashoffset="3"/>
<path d="M423.5 295V363" stroke-dashoffset="1"/>
<path d="M524.5 295V363" stroke-dashoffset="4"/>
<path d="M685 307.5H1087" stroke-dashoffset="0"/>
<path d="M685 337.5H1087" stroke-dashoffset="3"/>
<path d="M748.5 295V363" stroke-dashoffset="0"/>
<path d="M850.5 295V363" stroke-dashoffset="3"/>
<path d="M951.5 295V363" stroke-dashoffset="1"/>
<path d="M1053.5 295V363" stroke-dashoffset="4"/>
<path d="M157 502.5H559" stroke-dashoffset="1"/>
<path d="M157 533.5H559" stroke-dashoffset="4"/>
<path d="M219.5 493V560" stroke-dashoffset="3"/>
<path d="M321.5 493V560" stroke-dashoffset="1"/>
<path d="M423.5 493V560" stroke-dashoffset="4"/>
<path d="M524.5 493V560" stroke-dashoffset="2"/>
<path d="M685 497.5H1087" stroke-dashoffset="1"/>
<path d="M685 531.5H1087" stroke-dashoffset="4"/>
<path d="M748.5 493V560" stroke-dashoffset="3"/>
<path d="M850.5 493V560" stroke-dashoffset="1"/>
<path d="M951.5 493V560" stroke-dashoffset="4"/>
<path d="M1053.5 493V560" stroke-dashoffset="2"/>
<path d="M157 707.5H559" stroke-dashoffset="3"/>
<path d="M157 725.5H559" stroke-dashoffset="1"/>
<path d="M157 744.5H559" stroke-dashoffset="4"/>
<path d="M219.5 690V757" stroke-dashoffset="0"/>
<path d="M321.5 690V757" stroke-dashoffset="3"/>
<path d="M423.5 690V757" stroke-dashoffset="1"/>
<path d="M524.5 690V757" stroke-dashoffset="4"/>
<path d="M685 702.5H1087" stroke-dashoffset="3"/>
<path d="M685 722.5H1087" stroke-dashoffset="1"/>
<path d="M685 742.5H1087" stroke-dashoffset="4"/>
<path d="M748.5 690V757" stroke-dashoffset="0"/>
<path d="M850.5 690V757" stroke-dashoffset="3"/>
<path d="M951.5 690V757" stroke-dashoffset="1"/>
<path d="M1053.5 690V757" stroke-dashoffset="4"/>
</g>
<g fill="#000" shape-rendering="crispEdges">
<rect x="157" y="107" width="4" height="1"/>
<rect x="157" y="138" width="4" height="1"/>
<rect x="219" y="160" width="1" height="5"/>
<rect x="321" y="160" width="1" height="5"/>
<rect x="423" y="160" width="1" height="5"/>
<rect x="524" y="160" width="1" height="5"/>
<rect x="156" y="98" width="1" height="68"/>
<rect x="156" y="165" width="403" height="1"/>
<rect x="685" y="114" width="4" height="1"/>
<rect x="685" y="141" width="4" height="1"/>
<rect x="748" y="160" width="1" height="5"/>
<rect x="850" y="160" width="1" height="5"/>
<rect x="951" y="160" width="1" height="5"/>
<rect x="1053" y="160" width="1" height="5"/>
<rect x="684" y="98" width="1" height="68"/>
<rect x="684" y="165" width="403" height="1"/>
<rect x="157" y="311" width="4" height="1"/>
<rect x="157" y="339" width="4" height="1"/>
<rect x="219" y="358" width="1" height="5"/>
<rect x="321" y="358" width="1" height="5"/>
<rect x="423" y="358" width="1" height="5"/>
<rect x="524" y="358" width="1" height="5"/>
<rect x="156" y="295" width="1" height="69"/>
<rect x="156" y="363" width="403" height="1"/>
<rect x="685" y="307" width="4" height="1"/>
<rect x="685" y="337" width="4" height="1"/>
<rect x="748" y="358" width="1" height="5"/>
<rect x="850" y="358" width="1" height="5"/>
<rect x="951" y="358" width="1" height="5"/>
<rect x="1053" y="358" width="1" height="5"/>
<rect x="684" y="295" width="1" height="69"/>
<rect x="684" y="363" width="403" height="1"/>
<rect x="157" y="502" width="4" height="1"/>
<rect x="157" y="533" width="4" height="1"/>
<rect x="219" y="555" width="1" height="5"/>
<rect x="321" y="555" width="1" height="5"/>
<rect x="423" y="555" width="1" height="5"/>
<rect x="524" y="555" width="1" height="5"/>
<rect x="156" y="493" width="1" height="68"/>
<rect x="156" y="560" width="403" height="1"/>
<rect x="685" y="497" width="4" height="1"/>
<rect x="685" y="531" width="4" height="1"/>
<rect x="748" y="555" width="1" height="5"/>
<rect x="850" y="555" width="1" height="5"/>
<rect x="951" y="555" width="1" height="5"/>
<rect x="1053" y="555" width="1" height="5"/>
<rect x="684" y="493" width="1" height="68"/>
<rect x="684" y="560" width="403" height="1"/>
<rect x="157" y="707" width="4" height="1"/>
<rect x="157" y="725" width="4" height="1"/>
<rect x="157" y="744" width="4" height="1"/>
<rect x="219" y="752" width="1" height="5"/>
<rect x="321" y="752" width="1" height="5"/>
<rect x="423" y="752" width="1" height="5"/>
<rect x="524" y="752" width="1" height="5"/>
<rect x="156" y="690" width="1" height="68"/>
<rect x="156" y="757" width="403" height="1"/>
<rect x="685" y="702" width="4" height="1"/>
<rect x="685" y="722" width="4" height="1"/>
<rect x="685" y="742" width="4" height="1"/>
<rect x="748" y="752" width="1" height="5"/>
<rect x="850" y="752" width="1" height="5"/>
<rect x="951" y="752" width="1" height="5"/>
<rect x="1053" y="752" width="1" height="5"/>
<rect x="684" y="690" width="1" height="68"/>
<rect x="684" y="757" width="403" height="1"/>
</g>
<g shape-rendering="crispEdges" fill="none" stroke-width="1">
<path d="M391.5 100v2M372 100.5h1M406 100.5h2M398 101.5h1M434 101.5h1M362 102.5h1M374 102.5h1M436 102.5h1M366 103.5h1M375 103.5h1M421 103.5h1M435 103.5h1M361 104.5h1M336 105.5h1M360 105.5h1M368 105.5h1M438 105.5h1M367 106.5h1M337 107.5h1M319 110.5h1M462 112.5h1M468 113.5h1M469 114.5h1M475 118.5h1M307 119.5h1M297 123.5h1M296 124.5h1M282 128.5h1M276 129.5h1M514 131.5h2M273 132.5h1M516 133.5h1M268 134.5h2M264 136.5h1M258 138.5h1M529 138.5h1M220 151.5h2" stroke="#3c2c8c"/>
<use href="#c1" stroke="#a82a22"/>
<path d="M880.5 105v2M881.5 107v2M931.5 98v2M915 99.5h1M926 99.5h1M897 100.5h1M914 100.5h1M889 101.5h1M930 101.5h1M896 102.5h1M869 103.5h1M877 103.5h1M920 104.5h1M971 105.5h1M973 105.5h1M882 106.5h1M968 106.5h1M980 106.5h1M972 107.5h1M991 107.5h1M992 108.5h1M853 109.5h1M856 109.5h1M859 109.5h1M855 110.5h1M850 111.5h1M854 111.5h1M848 112.5h2M838 114.5h1M837 115.5h1M836 117.5h1M1015 124.5h1M1030 130.5h2M1036 132.5h2" stroke="#3c2c8c"/>
<use href="#c2" stroke="#a82a22"/>
<path d="M397 295.5h1M405 296.5h1M362 297.5h1M396 297.5h1M380 298.5h1M383 298.5h1M398 298.5h1M381 299.5h1M400 300.5h1M354 301.5h1M356 301.5h1M399 301.5h1M422 301.5h1M355 302.5h1M416 302.5h1M428 302.5h1M437 302.5h1M427 303.5h1M344 304.5h1M417 304.5h1M438 305.5h1M450 305.5h1M331 306.5h1M453 306.5h1M459 310.5h1M308 311.5h1M307 313.5h1M471 313.5h1M474 314.5h1M473 315.5h1M477 315.5h1M478 316.5h1M297 318.5h1M480 318.5h1M296 319.5h1M299 319.5h1M487 319.5h1M289 320.5h1M488 320.5h1M288 323.5h1M500 326.5h1M501 327.5h1M516 332.5h1M537 342.5h1M538 343.5h1M212 350.5h1" stroke="#3c2c8c"/>
<use href="#c3" stroke="#a82a22"/>
<path d="M890 295.5h1M935 295.5h1M899 297.5h1M905 298.5h1M904 299.5h1M914 299.5h1M947 299.5h1M870 300.5h1M971 300.5h1M970 301.5h1M865 302.5h1M989 306.5h1M990 307.5h1M832 315.5h2M818 320.5h1M1041 332.5h1M1042 333.5h1M778 336.5h1M777 337.5h1M774 339.5h1M1063 341.5h1M1064 342.5h1" stroke="#3c2c8c"/>
<use href="#c4" stroke="#a82a22"/>
<path d="M396 494.5h1M342 495.5h1M395 496.5h1M341 497.5h1M343 497.5h1M382 497.5h1M379 498.5h1M391 498.5h1M383 499.5h1M390 501.5h1M457 505.5h1M472 510.5h2M304 511.5h1M301 513.5h1M300 514.5h1M496 521.5h2M498 522.5h1M270 525.5h1" stroke="#3c2c8c"/>
<use href="#c5" stroke="#a82a22"/>
<path d="M883.5 500v2M899.5 497v2M942 494.5h1M922 495.5h2M908 496.5h1M926 496.5h1M941 496.5h1M925 497.5h1M943 497.5h1M882 498.5h1M898 498.5h1M894 500.5h1M884 501.5h1M886 501.5h1M895 501.5h1M953 501.5h1M958 501.5h1M870 502.5h1M957 502.5h1M970 502.5h1M887 503.5h1M969 503.5h1M869 504.5h1M862 505.5h1M853 507.5h1M848 508.5h2M1002 512.5h1M1005 512.5h1M1006 513.5h1M1028 523.5h1M1029 525.5h1M777 535.5h1M776 536.5h1M688 559.5h2" stroke="#3c2c8c"/>
<use href="#c6" stroke="#a82a22"/>
<path d="M404.5 691v2M420.5 690v2M367 690.5h1M410 690.5h1M419 690.5h1M368 691.5h1M418 691.5h1M366 692.5h1M406 692.5h2M381 693.5h1M417 693.5h1M403 694.5h1M382 695.5h1M336 699.5h1M321 703.5h2M459 704.5h1M461 704.5h1M462 706.5h1M286 717.5h1M285 718.5h1M496 719.5h1" stroke="#3c2c8c"/>
<use href="#c7" stroke="#a82a22"/>
<path d="M925.5 691v2M895 693.5h1M914 693.5h1M890 694.5h1M896 694.5h1M913 695.5h1M924 695.5h1M871 697.5h1M885 697.5h1M962 697.5h1M969 697.5h1M872 699.5h1M963 699.5h1M866 700.5h1M973 700.5h1M865 701.5h1M852 705.5h1M840 707.5h1M839 708.5h1M832 709.5h1M831 710.5h1M1000 710.5h2M825 711.5h1M816 715.5h1M817 716.5h1M815 717.5h1M802 722.5h2M1027 722.5h1M1029 722.5h1M1030 723.5h1M796 724.5h1M795 725.5h1M1036 726.5h2M1086 742.5h1" stroke="#3c2c8c"/>
<use href="#c8" stroke="#a82a22"/>
</g>
<g font-family="'Liberation Sans', Arial, Helvetica, sans-serif" font-size="24.5" fill="#000" stroke="#000" stroke-width="0.3">
<text transform="translate(149.6,119.0) scale(0.925,1.040)" text-anchor="end">40</text>
<text transform="translate(149.6,150.0) scale(0.925,1.040)" text-anchor="end">20</text>
<text transform="translate(219.0,200.7) scale(0.950,1.040)" text-anchor="middle">2305</text>
<text transform="translate(321.0,200.7) scale(0.950,1.040)" text-anchor="middle">2310</text>
<text transform="translate(423.0,200.7) scale(0.950,1.040)" text-anchor="middle">2315</text>
<text transform="translate(524.0,200.7) scale(0.950,1.040)" text-anchor="middle">2320</text>
<text transform="translate(355.8,78.2) scale(0.995,1.075)" text-anchor="middle">Bin 1</text>
<text transform="translate(356.0,239.0) scale(0.990,1.075)" text-anchor="middle">Wavenumber [cm<tspan dy="-11.1" font-size="17.5" stroke-width="0.1">-1</tspan><tspan dy="11.1">]</tspan></text>
<text transform="translate(110.0,133.3) rotate(-90) scale(0.985,1.100)" text-anchor="middle">ADU</text>
<text transform="translate(677.6,126.0) scale(0.925,1.040)" text-anchor="end">40</text>
<text transform="translate(677.6,153.0) scale(0.925,1.040)" text-anchor="end">20</text>
<text transform="translate(748.0,200.7) scale(0.950,1.040)" text-anchor="middle">2305</text>
<text transform="translate(850.0,200.7) scale(0.950,1.040)" text-anchor="middle">2310</text>
<text transform="translate(951.0,200.7) scale(0.950,1.040)" text-anchor="middle">2315</text>
<text transform="translate(1053.0,200.7) scale(0.950,1.040)" text-anchor="middle">2320</text>
<text transform="translate(883.8,78.2) scale(0.995,1.075)" text-anchor="middle">Bin 2</text>
<text transform="translate(884.0,239.0) scale(0.990,1.075)" text-anchor="middle">Wavenumber [cm<tspan dy="-11.1" font-size="17.5" stroke-width="0.1">-1</tspan><tspan dy="11.1">]</tspan></text>
<text transform="translate(638.0,133.3) rotate(-90) scale(0.985,1.100)" text-anchor="middle">ADU</text>
<text transform="translate(149.6,323.0) scale(0.925,1.040)" text-anchor="end">40</text>
<text transform="translate(149.6,351.0) scale(0.925,1.040)" text-anchor="end">20</text>
<text transform="translate(219.0,398.7) scale(0.950,1.040)" text-anchor="middle">2305</text>
<text transform="translate(321.0,398.7) scale(0.950,1.040)" text-anchor="middle">2310</text>
<text transform="translate(423.0,398.7) scale(0.950,1.040)" text-anchor="middle">2315</text>
<text transform="translate(524.0,398.7) scale(0.950,1.040)" text-anchor="middle">2320</text>
<text transform="translate(355.8,275.2) scale(0.995,1.075)" text-anchor="middle">Bin 3</text>
<text transform="translate(356.0,437.0) scale(0.990,1.075)" text-anchor="middle">Wavenumber [cm<tspan dy="-11.1" font-size="17.5" stroke-width="0.1">-1</tspan><tspan dy="11.1">]</tspan></text>
<text transform="translate(110.0,330.8) rotate(-90) scale(0.985,1.100)" text-anchor="middle">ADU</text>
<text transform="translate(677.6,319.0) scale(0.925,1.040)" text-anchor="end">40</text>
<text transform="translate(677.6,349.0) scale(0.925,1.040)" text-anchor="end">20</text>
<text transform="translate(748.0,398.7) scale(0.950,1.040)" text-anchor="middle">2305</text>
<text transform="translate(850.0,398.7) scale(0.950,1.040)" text-anchor="middle">2310</text>
<text transform="translate(951.0,398.7) scale(0.950,1.040)" text-anchor="middle">2315</text>
<text transform="translate(1053.0,398.7) scale(0.950,1.040)" text-anchor="middle">2320</text>
<text transform="translate(883.8,275.2) scale(0.995,1.075)" text-anchor="middle">Bin 4</text>
<text transform="translate(884.0,437.0) scale(0.990,1.075)" text-anchor="middle">Wavenumber [cm<tspan dy="-11.1" font-size="17.5" stroke-width="0.1">-1</tspan><tspan dy="11.1">]</tspan></text>
<text transform="translate(638.0,330.8) rotate(-90) scale(0.985,1.100)" text-anchor="middle">ADU</text>
<text transform="translate(149.6,514.0) scale(0.925,1.040)" text-anchor="end">40</text>
<text transform="translate(149.6,545.0) scale(0.925,1.040)" text-anchor="end">20</text>
<text transform="translate(219.0,595.7) scale(0.950,1.040)" text-anchor="middle">2305</text>
<text transform="translate(321.0,595.7) scale(0.950,1.040)" text-anchor="middle">2310</text>
<text transform="translate(423.0,595.7) scale(0.950,1.040)" text-anchor="middle">2315</text>
<text transform="translate(524.0,595.7) scale(0.950,1.040)" text-anchor="middle">2320</text>
<text transform="translate(355.8,473.2) scale(0.995,1.075)" text-anchor="middle">Bin 5</text>
<text transform="translate(356.0,634.0) scale(0.990,1.075)" text-anchor="middle">Wavenumber [cm<tspan dy="-11.1" font-size="17.5" stroke-width="0.1">-1</tspan><tspan dy="11.1">]</tspan></text>
<text transform="translate(110.0,528.3) rotate(-90) scale(0.985,1.100)" text-anchor="middle">ADU</text>
<text transform="translate(677.6,509.0) scale(0.925,1.040)" text-anchor="end">40</text>
<text transform="translate(677.6,543.0) scale(0.925,1.040)" text-anchor="end">20</text>
<text transform="translate(748.0,595.7) scale(0.950,1.040)" text-anchor="middle">2305</text>
<text transform="translate(850.0,595.7) scale(0.950,1.040)" text-anchor="middle">2310</text>
<text transform="translate(951.0,595.7) scale(0.950,1.040)" text-anchor="middle">2315</text>
<text transform="translate(1053.0,595.7) scale(0.950,1.040)" text-anchor="middle">2320</text>
<text transform="translate(883.8,473.2) scale(0.995,1.075)" text-anchor="middle">Bin 6</text>
<text transform="translate(884.0,634.0) scale(0.990,1.075)" text-anchor="middle">Wavenumber [cm<tspan dy="-11.1" font-size="17.5" stroke-width="0.1">-1</tspan><tspan dy="11.1">]</tspan></text>
<text transform="translate(638.0,528.3) rotate(-90) scale(0.985,1.100)" text-anchor="middle">ADU</text>
<text transform="translate(149.6,719.0) scale(0.925,1.040)" text-anchor="end">30</text>
<text transform="translate(149.6,737.0) scale(0.925,1.040)" text-anchor="end">20</text>
<text transform="translate(149.6,756.0) scale(0.925,1.040)" text-anchor="end">10</text>
<text transform="translate(219.0,792.7) scale(0.950,1.040)" text-anchor="middle">2305</text>
<text transform="translate(321.0,792.7) scale(0.950,1.040)" text-anchor="middle">2310</text>
<text transform="translate(423.0,792.7) scale(0.950,1.040)" text-anchor="middle">2315</text>
<text transform="translate(524.0,792.7) scale(0.950,1.040)" text-anchor="middle">2320</text>
<text transform="translate(355.8,670.2) scale(0.995,1.075)" text-anchor="middle">Bin 7</text>
<text transform="translate(356.0,831.0) scale(0.990,1.075)" text-anchor="middle">Wavenumber [cm<tspan dy="-11.1" font-size="17.5" stroke-width="0.1">-1</tspan><tspan dy="11.1">]</tspan></text>
<text transform="translate(110.0,725.3) rotate(-90) scale(0.985,1.100)" text-anchor="middle">ADU</text>
<text transform="translate(677.6,714.0) scale(0.925,1.040)" text-anchor="end">30</text>
<text transform="translate(677.6,734.0) scale(0.925,1.040)" text-anchor="end">20</text>
<text transform="translate(677.6,754.0) scale(0.925,1.040)" text-anchor="end">10</text>
<text transform="translate(748.0,792.7) scale(0.950,1.040)" text-anchor="middle">2305</text>
<text transform="translate(850.0,792.7) scale(0.950,1.040)" text-anchor="middle">2310</text>
<text transform="translate(951.0,792.7) scale(0.950,1.040)" text-anchor="middle">2315</text>
<text transform="translate(1053.0,792.7) scale(0.950,1.040)" text-anchor="middle">2320</text>
<text transform="translate(883.8,670.2) scale(0.995,1.075)" text-anchor="middle">Bin 8</text>
<text transform="translate(884.0,831.0) scale(0.990,1.075)" text-anchor="middle">Wavenumber [cm<tspan dy="-11.1" font-size="17.5" stroke-width="0.1">-1</tspan><tspan dy="11.1">]</tspan></text>
<text transform="translate(638.0,725.3) rotate(-90) scale(0.985,1.100)" text-anchor="middle">ADU</text>
</g>
</svg>
</body>
</html>
